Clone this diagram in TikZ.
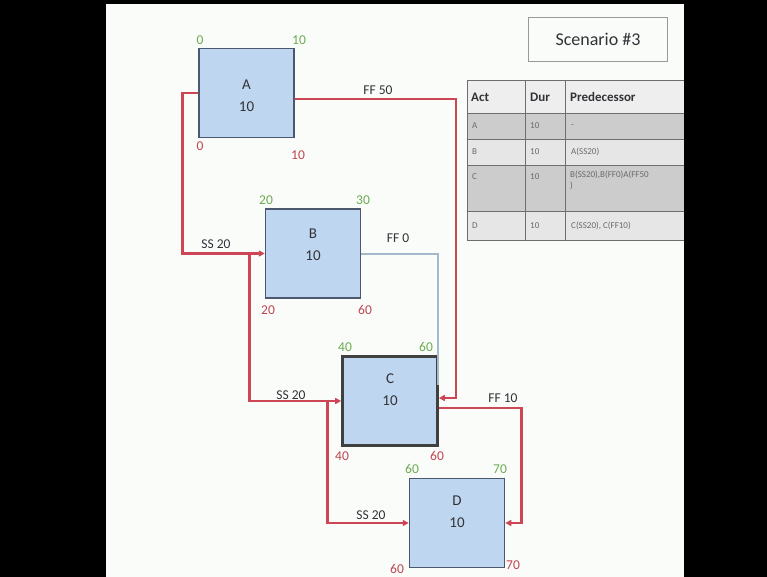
\documentclass[tikz,border=0pt]{standalone}
\usepackage{fontspec}
\setmainfont{Carlito}
\usetikzlibrary{calc,arrows.meta}
\definecolor{bg}{RGB}{250,252,250}
\definecolor{boxfill}{RGB}{191,214,240}
\definecolor{boxdraw}{RGB}{75,88,110}
\definecolor{redl}{RGB}{205,70,85}
\definecolor{bluel}{RGB}{165,185,205}
\definecolor{greenn}{RGB}{110,170,80}
\definecolor{redn}{RGB}{190,70,80}
\definecolor{txt}{RGB}{50,50,55}
\definecolor{rowA}{RGB}{204,204,204}
\definecolor{rowB}{RGB}{230,230,230}
\definecolor{rowH}{RGB}{238,238,238}
\definecolor{gridc}{RGB}{110,110,110}
\definecolor{celltxt}{RGB}{105,105,105}
\tikzset{
  actbox/.style={draw=boxdraw,line width=1.5pt,fill=boxfill,minimum width=95pt,minimum height=89pt,inner sep=0pt},
  boxtext/.style={align=center,text=txt,font=\fontsize{15}{22}\selectfont},
  gnum/.style={text=greenn,font=\fontsize{13.5}{13}\selectfont,inner sep=0pt},
  rnum/.style={text=redn,font=\fontsize{13.5}{13}\selectfont,inner sep=0pt},
  redline/.style={draw=redl,line width=2.6pt},
  redarrow/.style={redline,-{Triangle[length=6pt,width=6pt]}},
  blueline/.style={draw=bluel,line width=2pt},
  linklabel/.style={text=txt,font=\fontsize{13.5}{13}\selectfont,inner sep=0pt},
  hdr/.style={text=txt,font=\bfseries\fontsize{13}{13}\selectfont,anchor=west,inner sep=0pt},
  cell/.style={text=celltxt,font=\fontsize{9}{11}\selectfont,anchor=west,inner sep=0pt,align=left}
}
\begin{document}
\begin{tikzpicture}[x=1pt,y=-1pt]
\useasboundingbox (0,0) rectangle (767,577);
\fill[bg] (0,0) rectangle (767,577);

% boxes
\node[actbox] (A) at (246.5,93) {};
\node[actbox] (B) at (313,253.5) {};
\node[actbox,line width=2.6pt,draw=black!75] (C) at (390,401) {};
\node[actbox] (D) at (457,523) {};
\node[boxtext] (At) at ($(A)+(0,3)$) {A\\10};
\node[boxtext] (Bt) at ($(B)+(0,-9)$) {B\\10};
\node[boxtext] (Ct) at ($(C)+(0,-11)$) {C\\10};
\node[boxtext] (Dt) at ($(D)+(0,-11)$) {D\\10};

% connectors
\coordinate (ssb) at ($(B.west)+(-15,0)$);
\coordinate (ssc) at ($(C.west)+(-14,0)$);
\draw[blueline] (B.east) -| ($(C.east)+(-1,-16)$);
\draw[redarrow] (A.west) -| ($(A.west)+(-16,0)$) |- (B.west);
\draw[redarrow] (ssb) |- (C.west);
\draw[redarrow] (ssc) |- (D.west);
\draw[redarrow] ($(A.east)+(0,6)$) -| ($(C.east)+(17,-3)$) -- ($(C.east)+(0,-3)$);
\draw[redarrow] ($(C.east)+(0,7)$) -| ($(D.east)+(16,0)$) -- (D.east);

\node[linklabel] (l1) at (378,90) {FF 50};
\node[linklabel] (l2) at (216,244) {SS 20};
\node[linklabel] (l3) at (398,238) {FF 0};
\node[linklabel] (l4) at (291,395) {SS 20};
\node[linklabel] (l5) at (371,515) {SS 20};
\node[linklabel] (l6) at (503,398) {FF 10};

% corner numbers
\node[gnum] (a1) at (200,40) {0};
\node[gnum] (a2) at (299,40) {10};
\node[rnum] (a3) at (200,146) {0};
\node[rnum] (a4) at (298,155) {10};
\node[gnum] (b1) at (266,200) {20};
\node[gnum] (b2) at (363,200) {30};
\node[rnum] (b3) at (268,310) {20};
\node[rnum] (b4) at (365,310) {60};
\node[gnum] (c1) at (345,347) {40};
\node[gnum] (c2) at (426,347) {60};
\node[rnum] (c3) at (342,456) {40};
\node[rnum] (c4) at (437,456) {60};
\node[gnum] (d1) at (412,469) {60};
\node[gnum] (d2) at (500,469) {70};
\node[rnum] (d3) at (397,569) {60};
\node[rnum] (d4) at (513,565) {70};

% table
\fill[rowH] (467,80) rectangle (700,113);
\fill[rowA] (467,113) rectangle (700,139);
\fill[rowB] (467,139) rectangle (700,165);
\fill[rowA] (467,165) rectangle (700,211);
\fill[rowB] (467,211) rectangle (700,240);
\draw[gridc,line width=0.8pt] (467,80) -- (700,80) (467,113) -- (700,113) (467,139) -- (700,139)
  (467,165) -- (700,165) (467,211) -- (700,211) (467,240) -- (700,240);
\draw[gridc,line width=0.8pt] (467,80) -- (467,240) (525,80) -- (525,240) (565,80) -- (565,240);
\node[hdr] (h1) at (471,97) {Act};
\node[hdr] (h2) at (530,97) {Dur};
\node[hdr] (h3) at (570,97) {Predecessor};
\node[cell] (r1a) at (472,126) {A};
\node[cell] (r1b) at (530,126) {10};
\node[cell] (r1c) at (571,126) {-};
\node[cell] (r2a) at (472,152) {B};
\node[cell] (r2b) at (530,152) {10};
\node[cell] (r2c) at (571,152) {A(SS20)};
\node[cell] (r3a) at (472,177) {C};
\node[cell] (r3b) at (530,177) {10};
\node[cell,anchor=north west] (r3c) at (570,171) {B(SS20),B(FF0)A(FF50\\)};
\node[cell] (r4a) at (472,226) {D};
\node[cell] (r4b) at (530,226) {10};
\node[cell] (r4c) at (571,226) {C(SS20), C(FF10)};

% scenario box
\node[draw=black!40,line width=1.5pt,minimum width=139pt,minimum height=44pt,text=txt,font=\fontsize{18}{18}\selectfont] (sc) at (598,39.5) {Scenario \#3};

% black bars
\fill[black] (0,0) rectangle (106,577);
\fill[black] (684,0) rectangle (767,577);
\fill[black] (0,0) rectangle (767,4);
\end{tikzpicture}
\end{document}
